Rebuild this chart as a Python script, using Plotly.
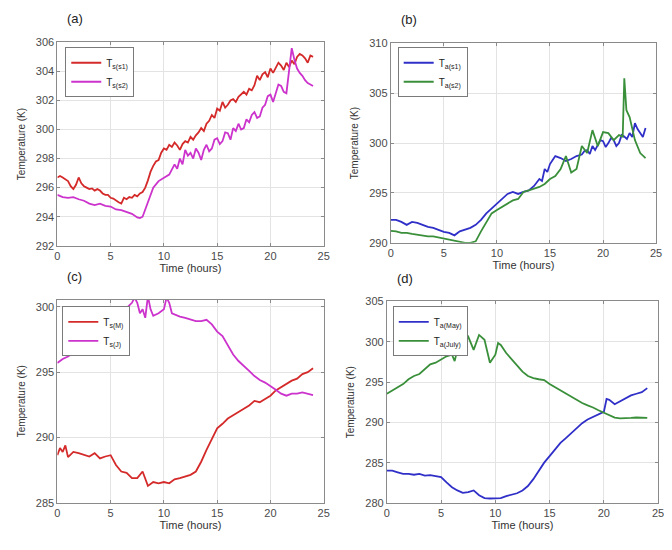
import plotly.graph_objects as go

# ---------------- data ----------------
# (a) surface temperatures, sites s1 / s2
t_a1 = [0, 0.25, 0.5, 0.75, 1, 1.25, 1.5, 1.75, 2, 2.25, 2.5, 2.75, 3, 3.25, 3.5, 3.75, 4, 4.25, 4.5, 4.75,
        5, 5.25, 5.5, 5.75, 6, 6.25, 6.5, 6.75, 7, 7.25, 7.5, 7.75, 8, 8.25, 8.5, 8.75, 9, 9.25, 9.5, 9.75,
        10, 10.25, 10.5, 10.75, 11, 11.25, 11.5, 11.75, 12, 12.25, 12.5, 12.75, 13, 13.25, 13.5, 13.75,
        14, 14.25, 14.5, 14.75, 15, 15.25, 15.5, 15.75, 16, 16.25, 16.5, 16.75, 17, 17.25, 17.5, 17.75,
        18, 18.25, 18.5, 18.75, 19, 19.25, 19.5, 19.75, 20, 20.25, 20.5, 20.75, 21, 21.25, 21.5, 21.75,
        22, 22.25, 22.5, 22.75, 23, 23.25, 23.5, 23.75, 24]
ts_s1 = [296.7, 296.8, 296.7, 296.6, 296.45, 296.1, 295.9, 296.2, 296.7, 296.3, 296.1, 296.0, 295.9, 295.95,
         295.8, 295.9, 295.8, 295.6, 295.5, 295.5, 295.3, 295.25, 295.1, 295.0, 294.9, 295.3, 295.2, 295.35,
         295.3, 295.5, 295.4, 295.6, 295.7, 296.0, 296.5, 297.1, 297.5, 297.8, 297.9, 298.4, 298.7, 298.6,
         298.95, 298.8, 299.1, 298.9, 298.6, 299.0, 299.2, 299.1, 299.5, 299.3, 299.6, 299.8, 300.1, 299.9,
         300.4, 300.6, 301.0, 300.8, 301.45, 301.3, 301.9, 301.5, 301.7, 302.0, 302.1, 301.9, 302.25, 302.4,
         302.6, 302.4, 302.8, 302.7, 303.05, 303.7, 303.4, 303.8, 303.95, 303.6, 304.2, 303.9, 304.3, 304.6,
         304.4, 304.1, 304.6, 304.3, 304.75, 304.5, 305.0, 305.2, 305.1, 304.9, 304.6, 305.1, 305.0]
t_a2 = [0, 0.5, 1, 1.5, 2, 2.5, 3, 3.5, 4, 4.5, 5, 5.5, 6, 6.5, 7, 7.5, 7.75, 8, 8.5, 9, 9.5, 10, 10.5,
        11, 11.25, 11.5, 11.75, 12, 12.25, 12.5, 12.75, 13, 13.25, 13.5, 13.75, 14, 14.25, 14.5, 14.75,
        15, 15.25, 15.5, 15.75, 16, 16.25, 16.5, 16.75, 17, 17.25, 17.5, 17.75, 18, 18.25, 18.5, 18.75,
        19, 19.25, 19.5, 19.75, 20, 20.25, 20.5, 20.75, 21, 21.25, 21.5, 21.75, 22, 22.25, 22.5, 22.75,
        23, 23.25, 23.5, 23.75, 24]
ts_s2 = [295.5, 295.35, 295.3, 295.35, 295.2, 295.1, 294.9, 294.8, 294.9, 294.75, 294.7, 294.5, 294.45,
         294.3, 294.2, 293.95, 293.9, 294.0, 295.0, 296.0, 296.45, 296.7, 296.9, 297.6, 297.3, 298.0, 297.6,
         298.6, 298.2, 298.4, 298.0, 298.7, 298.4, 297.9, 298.6, 298.95, 298.5, 298.7, 299.3, 299.4, 299.0,
         299.2, 299.8, 299.75, 299.3, 300.1, 299.9, 300.4, 300.0, 300.1, 300.7, 300.5, 301.0, 301.2, 300.8,
         300.9, 301.5, 301.7, 302.3, 302.4, 301.9, 302.5, 303.1, 303.0, 302.6, 302.5, 304.0, 305.6, 304.8,
         304.2, 303.9, 303.7, 303.4, 303.2, 303.1, 303.0]

# (b) air temperatures, sites s1 / s2
t_b1 = [0, 0.5, 1, 1.5, 2, 2.5, 3, 3.5, 4, 4.5, 5, 5.5, 6, 6.5, 7, 7.5, 8, 8.5, 9, 9.5, 10, 10.5, 11,
        11.5, 12, 12.5, 13, 13.5, 14, 14.25, 14.5, 14.75, 15, 15.25, 15.5, 16, 16.5, 17, 17.5, 18, 18.25,
        18.5, 18.75, 19, 19.25, 19.5, 19.75, 20, 20.25, 20.5, 20.75, 21, 21.25, 21.5, 21.75, 22, 22.25,
        22.5, 22.75, 23, 23.25, 23.5, 23.75, 24]
ta_s1 = [292.3, 292.3, 292.1, 291.8, 292.1, 292.0, 291.8, 291.6, 291.5, 291.3, 291.1, 291.0, 290.75,
         291.15, 291.3, 291.5, 291.8, 292.3, 292.95, 293.45, 293.9, 294.4, 294.9, 295.1, 294.9, 295.1,
         295.25, 295.7, 296.4, 296.2, 297.4, 297.1, 297.9, 298.3, 298.7, 298.5, 298.2, 298.4, 298.7, 298.85,
         299.2, 299.3, 298.9, 299.7, 299.3, 299.8, 300.3, 300.2, 299.6, 300.0, 300.5, 300.3, 299.7, 300.0,
         300.8, 300.65, 300.4, 301.0, 300.6, 302.0, 301.4, 301.0, 300.6, 301.5]
t_b2 = [0, 0.5, 1, 1.5, 2, 2.5, 3, 3.5, 4, 4.5, 5, 5.5, 6, 6.5, 7, 7.5, 8, 8.5, 9, 9.5, 10, 10.5, 11,
        11.5, 12, 12.5, 13, 13.5, 14, 14.5, 15, 15.5, 16, 16.5, 17, 17.5, 18, 18.5, 19, 19.5, 20, 20.5,
        21, 21.5, 21.85, 22, 22.2, 22.5, 23, 23.5, 24]
ta_s2 = [291.2, 291.15, 291.0, 291.0, 290.9, 290.8, 290.75, 290.65, 290.65, 290.55, 290.4, 290.3,
         290.2, 290.1, 290.0, 290.0, 290.15, 291.15, 292.1, 292.95, 293.3, 293.6, 293.9, 294.25, 294.4,
         295.1, 295.25, 295.4, 295.6, 295.9, 296.4, 296.7, 297.4, 298.7, 297.05, 297.4, 299.7, 299.0,
         301.3, 299.7, 301.1, 301.0, 300.3, 300.8, 300.65, 306.5, 303.3, 302.6, 300.3, 299.0, 298.5]

# (c) surface temperatures, May / July
t_c1 = [0, 0.25, 0.5, 0.75, 1, 1.5, 2, 2.5, 3, 3.5, 4, 4.5, 5, 5.5, 6, 6.5, 7, 7.5, 8, 8.5, 9, 9.5,
        10, 10.5, 11, 11.5, 12, 12.5, 13, 13.5, 14, 14.5, 15, 15.5, 16, 16.5, 17, 17.5, 18, 18.5, 19,
        19.5, 20, 20.5, 21, 21.5, 22, 22.5, 23, 23.5, 24]
ts_m = [288.65, 289.2, 288.9, 289.4, 288.5, 288.9, 288.8, 288.65, 288.55, 288.8, 288.4, 288.55, 288.65,
        287.9, 287.4, 287.3, 286.9, 286.9, 287.4, 286.3, 286.6, 286.5, 286.6, 286.5, 286.8, 286.9, 287.0,
        287.15, 287.4, 288.15, 289.05, 289.9, 290.7, 291.05, 291.45, 291.7, 291.95, 292.2, 292.45, 292.8,
        292.7, 292.95, 293.2, 293.6, 293.85, 294.1, 294.35, 294.5, 294.85, 295.0, 295.3]
t_c2 = [0, 0.5, 1, 1.5, 2, 2.5, 3, 3.5, 4, 4.5, 5, 5.5, 6, 6.5, 7, 7.25, 7.5, 7.75, 8, 8.25, 8.5, 8.75,
        9, 9.5, 10, 10.25, 10.5, 10.75, 11, 11.5, 12, 12.5, 13, 13.5, 14, 14.5, 15, 15.5, 16, 16.5, 17,
        17.5, 18, 18.5, 19, 19.5, 20, 20.5, 21, 21.5, 22, 22.5, 23, 23.5, 24]
ts_j = [295.7, 296.0, 296.2, 296.5, 296.75, 297.25, 297.75, 298.1, 298.5, 298.75, 299.0, 298.9, 299.0,
        299.9, 300.3, 300.7, 300.3, 299.5, 299.8, 299.15, 300.8, 299.8, 299.3, 299.5, 299.8, 300.7, 300.3,
        299.5, 299.4, 299.25, 299.15, 299.0, 298.9, 298.9, 299.0, 298.65, 298.1, 297.75, 297.0, 296.35,
        295.85, 295.5, 295.1, 294.7, 294.4, 294.2, 293.95, 293.65, 293.35, 293.2, 293.35, 293.35, 293.45,
        293.35, 293.25]

# (d) air temperatures, May / July
t_d1 = [0, 0.5, 1, 1.5, 2, 2.5, 3, 3.5, 4, 4.5, 5, 5.5, 6, 6.5, 7, 7.5, 8, 8.5, 9, 9.5, 10, 10.5, 11,
        11.5, 12, 12.5, 13, 13.5, 14, 14.5, 15, 15.5, 16, 16.5, 17, 17.5, 18, 18.5, 19, 19.5, 20, 20.25,
        20.5, 21, 21.5, 22, 22.5, 23, 23.5, 24]
ta_may = [284.0, 284.0, 283.8, 283.6, 283.6, 283.5, 283.6, 283.4, 283.45, 283.3, 283.2, 282.55, 281.95,
          281.55, 281.25, 281.35, 281.55, 280.95, 280.6, 280.55, 280.55, 280.6, 280.85, 281.0, 281.2,
          281.55, 282.1, 282.95, 284.0, 285.0, 285.8, 286.7, 287.45, 288.05, 288.65, 289.25, 289.9, 290.35,
          290.7, 291.0, 291.3, 292.9, 292.8, 292.25, 292.65, 293.05, 293.35, 293.55, 293.75, 294.25]
t_d2 = [0, 0.5, 1, 1.5, 2, 2.5, 3, 3.5, 4, 4.5, 5, 5.5, 6, 6.25, 6.5, 7, 7.5, 8, 8.5, 9, 9.5, 10,
        10.25, 10.5, 11, 11.5, 12, 12.5, 13, 13.5, 14, 14.5, 15, 15.5, 16, 16.5, 17, 17.5, 18, 18.5, 19,
        19.5, 20, 20.5, 21, 21.5, 22, 22.5, 23, 23.5, 24]
ta_jul = [293.55, 293.95, 294.35, 294.75, 295.35, 295.75, 296.0, 296.6, 297.2, 297.4, 297.8, 298.2,
          298.4, 297.6, 299.0, 300.05, 300.65, 299.0, 300.85, 300.25, 297.4, 298.4, 299.85, 299.6, 298.6,
          297.8, 297.0, 296.3, 295.75, 295.5, 295.35, 295.25, 294.75, 294.35, 293.95, 293.55, 293.15,
          292.7, 292.4, 292.1, 291.85, 291.5, 291.2, 290.9, 290.6, 290.5, 290.5, 290.55, 290.6, 290.55,
          290.55]

x_ticks = [0, 5, 10, 15, 20, 25]
y_ticks_a = [292, 294, 296, 298, 300, 302, 304, 306]
y_ticks_b = [290, 295, 300, 305, 310]
y_ticks_c = [285, 290, 295, 300]
y_ticks_d = [280, 285, 290, 295, 300, 305]

# ---------------- styling ----------------
RED = "#d42a2a"
MAG = "#cc33cc"
BLUE = "#3030c8"
GREEN = "#3a8f3a"
FONT = "Liberation Sans"
TICKC = "#4a4a4a"

OFF = 8            # page body margin
W, H = 672 - OFF, 550 - OFF


def px_x(p):
    return (p - OFF) / W


def px_y(p):
    return 1 - (p - OFF) / H


panels = [
    # name, x-domain px, y-domain px (top, bottom), y-range, y-ticks, legend pos px
    ("a", (55, 325), (37, 245), [292, 306], y_ticks_a, (63, 42)),
    ("b", (393, 662), (38, 242), [290, 310], y_ticks_b, (400, 42)),
    ("c", (55, 325), (300, 508), [285, 300.55], y_ticks_c, (60, 307)),
    ("d", (389, 664), (302, 508), [280, 305], y_ticks_d, (395, 307)),
]

series = [
    (t_a1, ts_s1, "T<sub>s(s1)</sub>", RED, 0),
    (t_a2, ts_s2, "T<sub>s(s2)</sub>", MAG, 0),
    (t_b1, ta_s1, "T<sub>a(s1)</sub>", BLUE, 1),
    (t_b2, ta_s2, "T<sub>a(s2)</sub>", GREEN, 1),
    (t_c1, ts_m, "T<sub>s(M)</sub>", RED, 2),
    (t_c2, ts_j, "T<sub>s(J)</sub>", MAG, 2),
    (t_d1, ta_may, "T<sub>a(May)</sub>", BLUE, 3),
    (t_d2, ta_jul, "T<sub>a(July)</sub>", GREEN, 3),
]

fig = go.Figure()
for tx, ty, name, col, k in series:
    sfx = "" if k == 0 else str(k + 1)
    fig.add_trace(go.Scatter(
        x=tx, y=ty, mode="lines", name=name,
        line=dict(color=col, width=1.8),
        xaxis="x" + sfx, yaxis="y" + sfx,
        legend="legend" if k == 0 else "legend" + str(k + 1),
    ))

layout = dict(
    width=W, height=H,
    margin=dict(l=0, r=0, t=0, b=0),
    paper_bgcolor="white", plot_bgcolor="white",
    font=dict(family=FONT, size=11, color=TICKC),
    annotations=[],
)

for k, (nm, xd, yd, yr, yt, lg) in enumerate(panels):
    sfx = "" if k == 0 else str(k + 1)
    common = dict(
        showline=True, linecolor="#8a8a8a", linewidth=1, mirror="ticks",
        showgrid=True, gridcolor="#e3e3e3", gridwidth=1,
        ticks="inside", ticklen=3, tickcolor="#8a8a8a",
        zeroline=False, tickfont=dict(family=FONT, size=11, color=TICKC),
        ticklabeloverflow="allow",
    )
    layout["xaxis" + sfx] = dict(
        domain=[px_x(xd[0]), px_x(xd[1])], range=[0, 25], tickvals=x_ticks,
        anchor="y" + sfx,
        title=dict(text="Time (hours)", font=dict(family=FONT, size=11, color="#333333"), standoff=2),
        **common,
    )
    layout["yaxis" + sfx] = dict(
        domain=[px_y(yd[1]), px_y(yd[0])], range=yr, tickvals=yt,
        anchor="x" + sfx,
        title=dict(text="Temperature (K)", font=dict(family=FONT, size=10, color="#333333"), standoff=8),
        **common,
    )
    layout["legend" if k == 0 else "legend" + str(k + 1)] = dict(
        x=px_x(lg[0]), y=px_y(lg[1]), xanchor="left", yanchor="top",
        xref="paper", yref="paper",
        bgcolor="white", bordercolor="#7a7a7a", borderwidth=1,
        font=dict(family=FONT, size=10, color="#222222"),
        itemwidth=30, tracegroupgap=0,
    )
    layout["annotations"].append(dict(
        text="(" + nm + ")", x=px_x(xd[0] + 8), y=px_y(yd[0] - 24),
        xref="paper", yref="paper", showarrow=False,
        xanchor="left", yanchor="middle",
        font=dict(family=FONT, size=13, color="#222222"),
    ))

fig.update_layout(**layout)
fig.write_html("out.html")
